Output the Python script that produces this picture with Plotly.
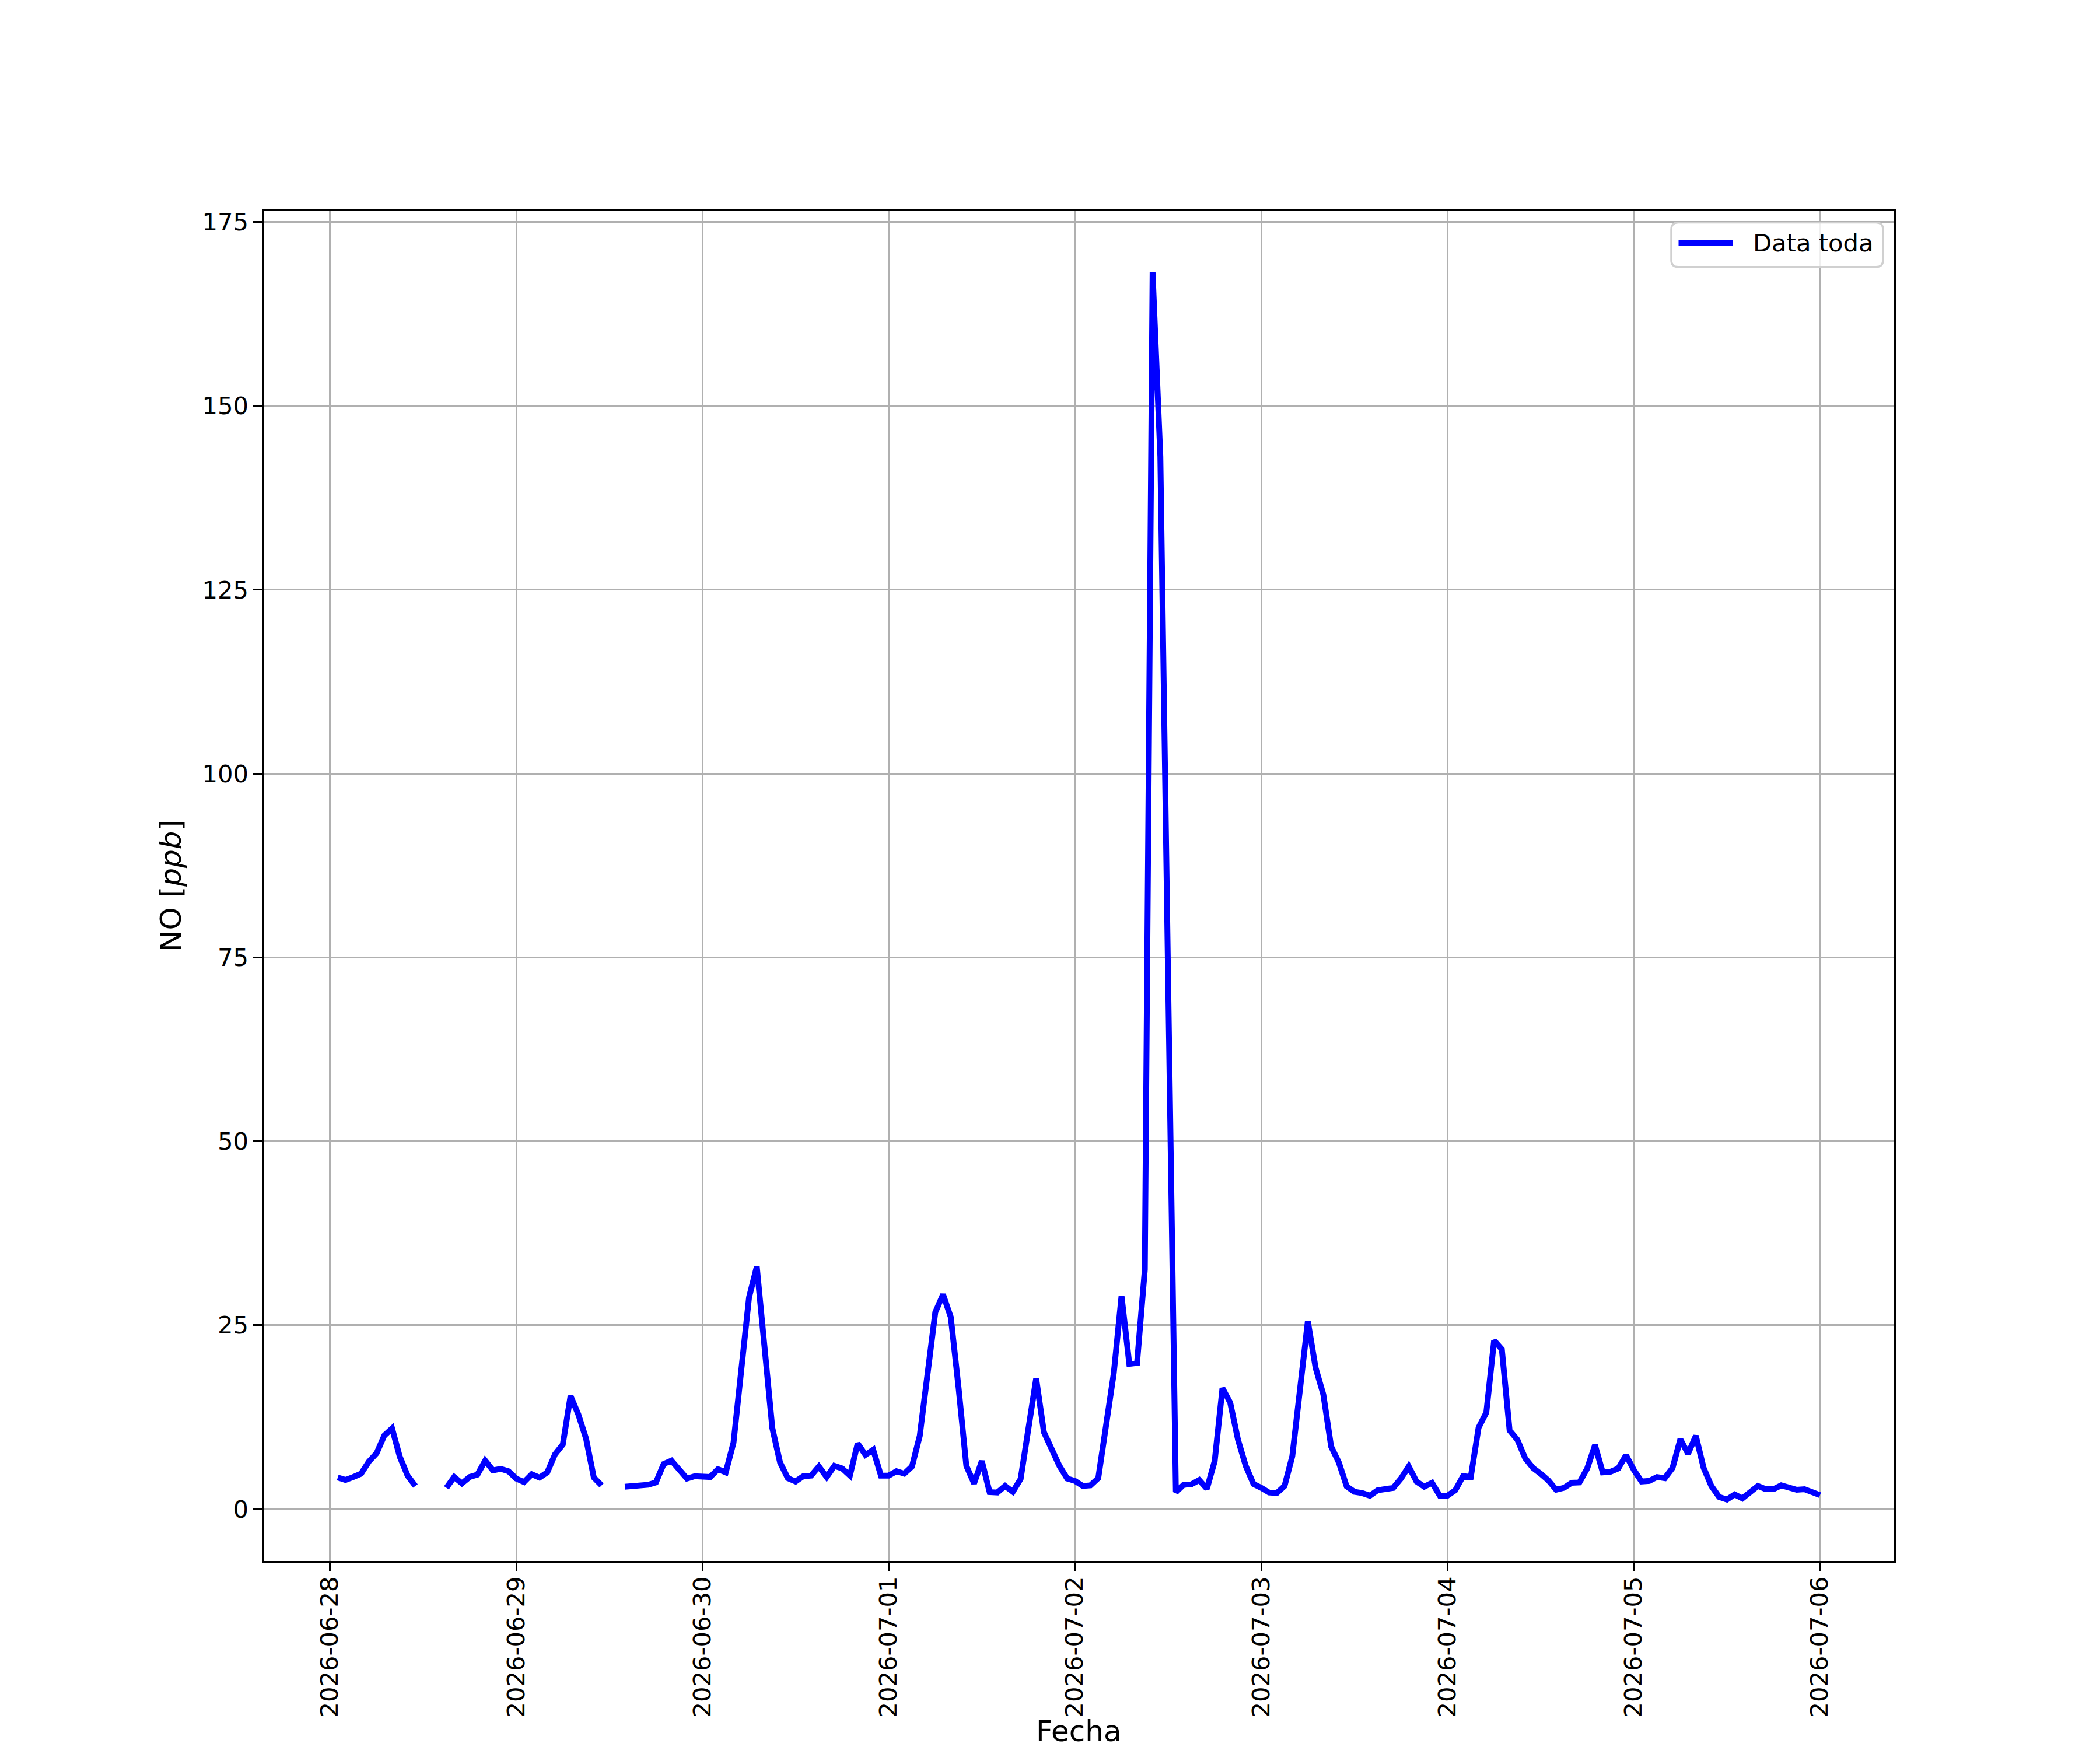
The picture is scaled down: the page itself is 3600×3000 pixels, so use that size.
import pandas as pd
import plotly.graph_objects as go

# NO hourly readings (ppb), one list per day, first value at 2026-06-28 01:00
no_0628 = [4.28, 3.96, 4.36, 4.81, 6.45, 7.58, 10.0, 10.97, 7.1, 4.55, 3.14, None,
           None, None, 2.88, 4.36, 3.49, 4.36, 4.68, 6.58, 5.26, 5.47, 5.15, 4.15]
no_0629 = [3.67, 4.73, 4.28, 4.99, 7.45, 8.77, 15.38, 12.87, 9.57, 4.28, 3.22, None,
           None, 3.04, 3.14, 3.36, 3.30, 3.62, 6.13, 6.58, 5.34, 4.15, 4.47, 4.47]
no_0630 = [4.36, 5.42, 4.99, 9.04, 18.9, 28.78, 32.95, 22.5, 11.02, 6.32, 4.20, 3.75,
           4.47, 4.55, 5.79, 4.36, 5.87, 5.52, 4.55, 8.91, 7.37, 8.06, 4.55, 4.55]
no_0701 = [5.15, 4.81, 5.79, 9.96, 17.8, 26.74, 29.18, 26.08, 16.5, 5.87, 3.49, 6.53,
           2.30, 2.25, 3.14, 2.35, 4.10, 11.0, 17.76, 10.44, 8.17, 5.87, 4.15, 3.83]
no_0702 = [3.14, 3.22, 4.20, 11.5, 18.47, 28.99, 19.74, 19.87, 32.56, 168.2, 143.1, 72.0,
           2.30, 3.30, 3.36, 3.94, 2.77, 6.53, 16.44, 14.46, 9.43, 5.87, 3.41, 2.88]
no_0703 = [2.25, 2.17, 3.14, 7.19, 15.64, 25.55, 19.21, 15.57, 8.51, 6.32, 3.09, 2.35,
           2.17, 1.82, 2.56, 2.77, 2.88, 4.15, 5.79, 3.75, 3.04, 3.57, 1.82, 1.82]
no_0704 = [2.56, 4.47, 4.36, 11.07, 13.13, 22.91, 21.72, 10.70, 9.43, 6.92, 5.60, 4.81,
           3.88, 2.62, 2.88, 3.57, 3.62, 5.52, 8.69, 4.99, 5.07, 5.52, 7.32, 5.34]
no_0705 = [3.75, 3.83, 4.36, 4.20, 5.60, 9.49, 7.53, 9.96, 5.60, 3.14, 1.64, 1.29,
           1.98, 1.45, 2.30, 3.14, 2.70, 2.70, 3.22, 2.83, 2.62, 2.70, 2.25, 1.90]

valores = no_0628 + no_0629 + no_0630 + no_0701 + no_0702 + no_0703 + no_0704 + no_0705
fechas = pd.date_range('2026-06-28 01:00', periods=len(valores), freq='h')
serie = 'Data toda'

PT = 300 / 72  # matplotlib points -> pixels at 300 dpi
fuente = 'DejaVu Sans'
ancho_linea = 10

fig = go.Figure()
fig.add_trace(go.Scatter(
    x=fechas, y=valores, mode='lines', name=serie,
    line=dict(color='blue', width=ancho_linea),
    connectgaps=False, showlegend=False,
))

# 5% margins like matplotlib
t0, t1 = fechas[0], fechas[-1]
pad = (t1 - t0) * 0.05
validos = [v for v in valores if v is not None]
ymin, ymax = min(validos), max(validos)
ypad = (ymax - ymin) * 0.05

eje = dict(
    showline=True, linecolor='black', linewidth=0.8 * PT, mirror=True,
    ticks='outside', ticklen=3.5 * PT, tickwidth=0.8 * PT, tickcolor='black',
    showgrid=True, gridcolor='#b0b0b0', gridwidth=0.8 * PT,
    zeroline=False,
    tickfont=dict(family=fuente, size=10 * PT, color='black'),
)

# legend box drawn by hand (upper right, rounded corners like matplotlib)
bx0, bx1, by0, by1 = 0.8633, 0.9932, 0.9582, 0.9911
rx, ry = 0.0043, 0.0052
caja = (f"M{bx0+rx},{by0} L{bx1-rx},{by0} Q{bx1},{by0} {bx1},{by0+ry} "
        f"L{bx1},{by1-ry} Q{bx1},{by1} {bx1-rx},{by1} "
        f"L{bx0+rx},{by1} Q{bx0},{by1} {bx0},{by1-ry} "
        f"L{bx0},{by0+ry} Q{bx0},{by0} {bx0+rx},{by0} Z")
ly = 0.9759

fig.update_layout(
    width=3600, height=3000,
    # shifted by the 8px page margin of the browser body
    margin=dict(l=444, r=361, t=353, b=332),
    paper_bgcolor='white', plot_bgcolor='white',
    font=dict(family=fuente, color='black'),
    xaxis=dict(
        eje, type='date', range=[t0 - pad, t1 + pad],
        dtick=86400000, tick0='2026-06-28', tickformat='%Y-%m-%d', tickangle=-90,
        ticklabelstandoff=-8,
    ),
    yaxis=dict(
        eje, range=[ymin - ypad, ymax + ypad], tickmode='linear', tick0=0, dtick=25,
        title=dict(text='NO [<i>ppb</i>]', font=dict(family=fuente, size=12 * PT), standoff=20),
    ),
    shapes=[
        dict(type='path', xref='paper', yref='paper', path=caja,
             fillcolor='rgba(255,255,255,0.8)', line=dict(color='#d0d0d0', width=0.8 * PT)),
        dict(type='line', xref='paper', yref='paper', x0=0.8678, x1=0.9011, y0=ly, y1=ly,
             line=dict(color='blue', width=ancho_linea)),
    ],
    annotations=[
        dict(text=serie, xref='paper', yref='paper', x=0.9126, y=ly,
             xanchor='left', yanchor='middle', showarrow=False,
             font=dict(family=fuente, size=10 * PT, color='black')),
        # x axis title, kept just inside the bottom edge
        dict(text='Fecha', xref='paper', yref='paper', x=0.5, y=0,
             xanchor='center', yanchor='bottom', yshift=-323, showarrow=False,
             font=dict(family=fuente, size=12 * PT, color='black')),
    ],
    showlegend=False,
)

fig.write_html('out.html')
